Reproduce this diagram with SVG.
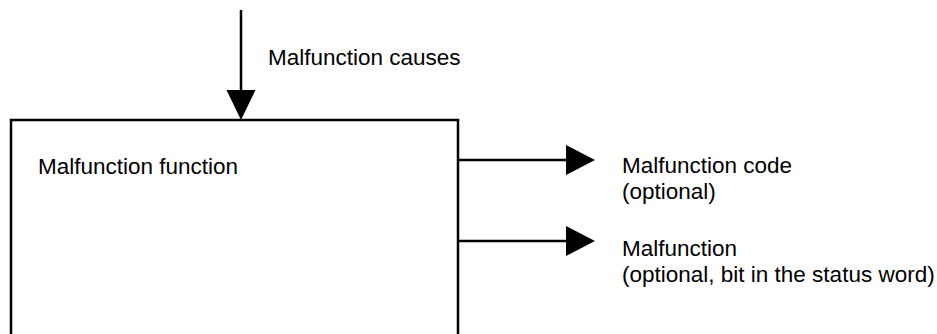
<svg xmlns="http://www.w3.org/2000/svg" width="937" height="334" viewBox="0 0 937 334">
<style>
.ln{stroke:#000;stroke-width:2.5;fill:none}
.hd{fill:#000;stroke:none}
.t{font-family:"Liberation Sans",Arial,sans-serif;font-size:22.5px;fill:#000}
</style>
<rect width="937" height="334" fill="#fff"/>
<g id="node-function">
<rect class="ln" x="11" y="120" width="447" height="240"/>
<text class="t" x="38" y="174">Malfunction function</text>
</g>
<g id="label-causes">
<text class="t" x="268" y="65">Malfunction causes</text>
</g>
<g id="label-code">
<text class="t" x="622" y="173">Malfunction code</text>
<text class="t" x="622" y="199">(optional)</text>
</g>
<g id="label-malfunction">
<text class="t" x="622" y="256">Malfunction</text>
<text class="t" x="622" y="282">(optional, bit in the status word)</text>
</g>
<g id="connectors">
<line class="ln" x1="241" y1="10" x2="241" y2="92"/>
<polygon class="hd" points="226.5,90 255.5,90 241,120"/>
<line class="ln" x1="458" y1="160" x2="568" y2="160"/>
<polygon class="hd" points="566,145 566,175 595,160"/>
<line class="ln" x1="458" y1="241" x2="568" y2="241"/>
<polygon class="hd" points="566,226 566,256 595,241"/>
</g>
</svg>
